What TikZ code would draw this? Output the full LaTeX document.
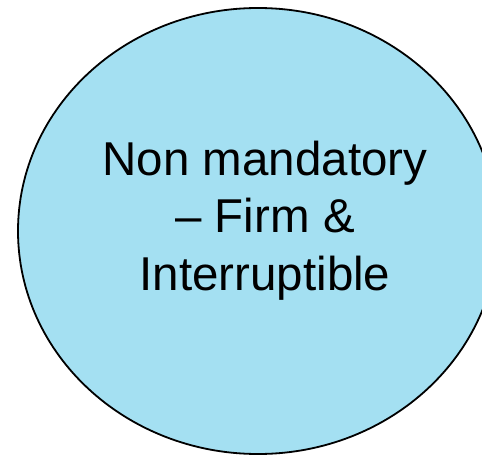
\documentclass[tikz,border=0pt]{standalone}
\usepackage{fontspec}
\setmainfont{Liberation Sans}
\definecolor{discfill}{RGB}{164,224,242}
\tikzset{
  disc/.style={draw=black, line width=1.8pt, fill=discfill},
  disclabel/.style={align=center, inner sep=0pt, anchor=base,
    font=\fontsize{47.5}{57.5}\selectfont}
}
\begin{document}
\begin{tikzpicture}[x=1pt,y=1pt]
  \useasboundingbox (0,0) rectangle (482,456);
  \begin{scope}
    \clip (0,0) rectangle (482,456);
    \draw[disc] (258,225) ellipse [x radius=240, y radius=223];
  \end{scope}
  % the base anchor of a multi-line node sits on its last line
  \node[disclabel] (label) at (265,166) {Non mandatory\\– Firm \&\\Interruptible};
\end{tikzpicture}
\end{document}
